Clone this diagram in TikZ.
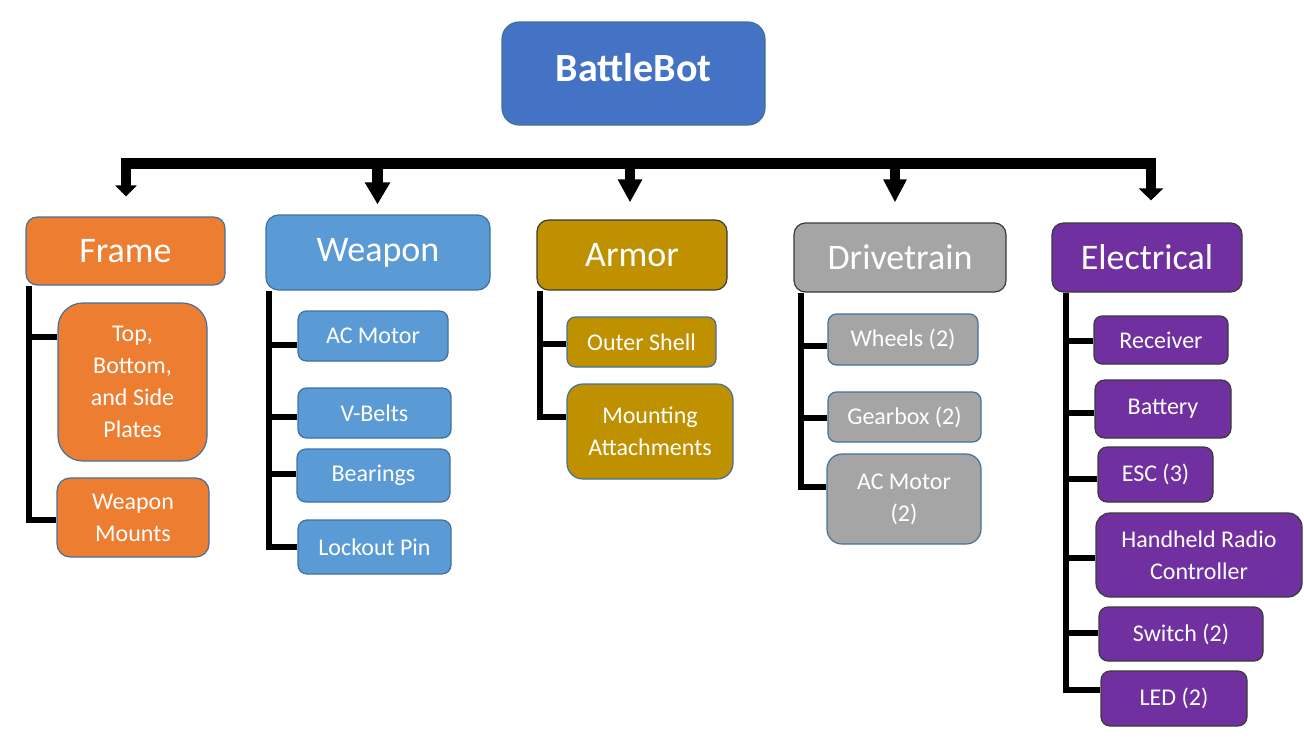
\documentclass[tikz,border=0pt]{standalone}
\usepackage{fontspec}
\setmainfont{Carlito}
\usetikzlibrary{arrows.meta}
\definecolor{cTop}{HTML}{4472C4}
\definecolor{cOrange}{HTML}{ED7D31}
\definecolor{cBlue}{HTML}{5B9BD5}
\definecolor{cGold}{HTML}{BF9000}
\definecolor{cGray}{HTML}{A5A5A5}
\definecolor{cPurple}{HTML}{7030A0}
\definecolor{lnBlue}{HTML}{41719C}
\definecolor{lnDark}{HTML}{3A3A3A}
\newcommand\bx[7]{%
  \pgfmathsetmacro\bw{#4-#2}\pgfmathsetmacro\bh{#5-#3}%
  \pgfmathsetmacro\br{0.1667*min(\bw,\bh)}%
  \node[#6, minimum width=\bw pt, minimum height=\bh pt, rounded corners=\br pt] (#1) at ({(#2+#4)/2},{(#3+#5)/2}) {#7};}
\tikzset{
  boxbase/.style={draw, line width=1.2pt, inner sep=0pt, text=white, align=center},
  topbox/.style={boxbase, fill=cTop, draw=lnBlue, font=\fontsize{40}{46}\selectfont\bfseries},
  catbox/.style={boxbase, font=\fontsize{36}{42}\selectfont},
  subbox/.style={boxbase, font=\fontsize{24}{32}\selectfont},
  orangeb/.style={fill=cOrange, draw=lnBlue},
  blueb/.style={fill=cBlue, draw=lnBlue},
  goldb/.style={fill=cGold, draw=lnBlue},
  goldd/.style={fill=cGold, draw=lnDark},
  grayb/.style={fill=cGray, draw=lnBlue},
  grayd/.style={fill=cGray, draw=lnDark},
  purpd/.style={fill=cPurple, draw=lnDark},
  barline/.style={line width=10.5pt, line cap=rect, black},
  arr/.style={line width=10.5pt, black},
  tree/.style={line width=5.5pt, black, line join=miter},
}
\begin{document}
\begin{tikzpicture}[x=1pt,y=-1pt]
\useasboundingbox (0,0) rectangle (1304,744);
% top
\bx{bot}{502}{22}{765}{125}{topbox}{\raisebox{12pt}{BattleBot}}
% categories
\bx{frame}{26}{217}{225}{285}{catbox,orangeb}{Frame}
\bx{weapon}{266}{215}{490}{290}{catbox,blueb}{Weapon}
\bx{armor}{537}{220}{727}{290}{catbox,goldd}{Armor}
\bx{drive}{794}{223}{1006}{292}{catbox,grayd}{Drivetrain}
\bx{elec}{1052}{223}{1242}{292}{catbox,purpd}{Electrical}
% bar
\coordinate (bF) at (126,163.5);
\coordinate (bW) at (377.5,163.5);
\coordinate (bA) at (630,163.5);
\coordinate (bD) at (895,163.5);
\coordinate (bE) at (1151,163.5);
\draw[barline] (bF) -- (bE);
\draw[arr, -{Triangle[width=21pt,length=11pt]}, shorten >=20pt] (bF) -- (bF |- frame.north);
\draw[arr, -{Triangle[width=24pt,length=22pt]}, shorten >=10pt] (bW) -- (bW |- weapon.north);
\draw[arr, -{Triangle[width=23pt,length=23pt]}, shorten >=17pt] (bA) -- (bA |- armor.north);
\draw[arr, -{Triangle[width=22pt,length=23pt]}, shorten >=20pt] (bD) -- (bD |- drive.north);
\draw[arr, -{Triangle[width=24pt,length=12pt]}, shorten >=22pt] (bE) -- (bE |- elec.north);
% Frame children
\bx{plates}{58}{303}{207}{461}{subbox,orangeb}{Top,\\Bottom,\\and Side\\Plates}
\bx{mounts}{57}{478}{209}{557}{subbox,orangeb}{Weapon\\Mounts}
% Weapon children
\bx{wac}{298}{311}{448}{361}{subbox,blueb}{AC Motor}
\bx{belts}{298}{388}{451}{438}{subbox,blueb}{V-Belts}
\bx{bear}{297}{449}{450}{502}{subbox,blueb}{Bearings}
\bx{pin}{298}{520}{451}{574}{subbox,blueb}{Lockout Pin}
% Armor children
\bx{shell}{567}{317}{716}{367}{subbox,goldb}{Outer Shell}
\bx{attach}{567}{384}{733}{479}{subbox,goldb}{Mounting\\Attachments}
% Drivetrain children
\bx{wheels}{828}{314}{978}{365}{subbox,grayb}{Wheels (2)}
\bx{gear}{828}{392}{981}{442}{subbox,grayb}{Gearbox (2)}
\bx{dac}{827}{454}{981}{544}{subbox,grayb}{AC Motor\\(2)}
% Electrical children
\bx{recv}{1094}{316}{1228}{364}{subbox,purpd}{Receiver}
\bx{batt}{1095}{380}{1231}{438}{subbox,purpd}{Battery}
\bx{esc}{1098}{447}{1213}{502}{subbox,purpd}{ESC (3)}
\bx{radio}{1096}{513}{1302}{597}{subbox,purpd}{Handheld Radio\\Controller}
\bx{switch}{1099}{607}{1263}{661}{subbox,purpd}{Switch (2)}
\bx{led}{1101}{671}{1247}{726}{subbox,purpd}{LED (2)}
% tree lines: Frame
\draw[tree] (frame.south -| 29,0) -- (29,520) -- (mounts.west |- 0,520);
\draw[tree] (29,337) -- (plates.west |- 0,337);
% Weapon
\draw[tree] (weapon.south -| 269,0) -- (269,547) -- (pin.west |- 0,547);
\draw[tree] (269,345) -- (wac.west |- 0,345);
\draw[tree] (269,417) -- (belts.west |- 0,417);
\draw[tree] (269,474) -- (bear.west |- 0,474);
% Armor
\draw[tree] (armor.south -| 540,0) -- (540,417) -- (attach.west |- 0,417);
\draw[tree] (540,344) -- (shell.west |- 0,344);
% Drivetrain
\draw[tree] (drive.south -| 801,0) -- (801,487) -- (dac.west |- 0,487);
\draw[tree] (801,346) -- (wheels.west |- 0,346);
\draw[tree] (801,418) -- (gear.west |- 0,418);
% Electrical
\draw[tree] (elec.south -| 1066,0) -- (1066,690) -- (led.west |- 0,690);
\draw[tree] (1066,341) -- (recv.west |- 0,341);
\draw[tree] (1066,413) -- (batt.west |- 0,413);
\draw[tree] (1066,479) -- (esc.west |- 0,479);
\draw[tree] (1066,558) -- (radio.west |- 0,558);
\draw[tree] (1066,633) -- (switch.west |- 0,633);
\end{tikzpicture}
\end{document}
